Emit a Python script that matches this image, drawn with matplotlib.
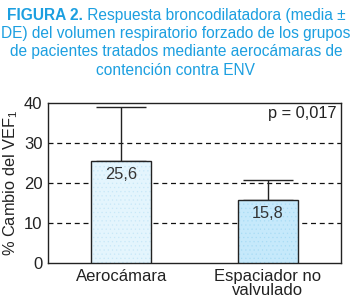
import matplotlib.pyplot as plt

plt.rcParams['font.family'] = ['Liberation Sans', 'DejaVu Sans']
plt.rcParams['mathtext.default'] = 'regular'
plt.rcParams['hatch.linewidth'] = 0.4

# datos
grupos = ["Aerocámara", "Espaciador no\nvalvulado"]
medias = [25.6, 15.8]
de = [13.4, 4.9]
etiquetas = ["25,6", "15,8"]
colores = ["#e4f5fd", "#c6e9fb"]
puntos = ["#c8e8f8", "#a9dcf5"]

azul = "#1c9fe0"
gris = "#222222"

fig = plt.figure(figsize=(3.52, 3.02), dpi=100)
ax = fig.add_axes([0.136, 0.129, 0.833, 0.53])

x = [0, 1]
# relleno con textura de puntos y luego el borde
ax.bar(x, medias, width=0.41, color=colores, edgecolor=puntos, hatch="....",
       linewidth=0, zorder=3)
ax.bar(x, medias, width=0.41, color="none", edgecolor=gris, linewidth=1, zorder=3)
ax.errorbar(x, medias, yerr=[[0, 0], de], fmt="none", ecolor=gris,
            elinewidth=1, capsize=18, capthick=1, zorder=2)

for xi, m, t in zip(x, medias, etiquetas):
    ax.text(xi, m - 3.4, t, ha="center", va="center", fontsize=11.8, color="#333333", zorder=4)

ax.text(1.47, 37.4, "p = 0,017", ha="right", va="center", fontsize=11.8, color=gris)

ax.set_xlim(-0.5, 1.5)
ax.set_ylim(0, 40)
ax.set_yticks([0, 10, 20, 30, 40])
ax.set_xticks(x)
ax.set_xticklabels(grupos, fontsize=12, color=gris, linespacing=0.95)
ax.tick_params(axis="both", length=0, labelsize=12, labelcolor=gris)
ax.tick_params(axis="y", pad=4)
ax.tick_params(axis="x", pad=4)
for yv in [10, 20, 30]:
    ax.axhline(yv, color="#111111", linestyle=(0, (4, 3)), linewidth=0.9, zorder=1)
for s in ax.spines.values():
    s.set_color(gris)
    s.set_linewidth(1)

ax.set_ylabel("% Cambio del VEF$_1$", fontsize=11.8, color=gris, labelpad=3)

# titulo: primera linea con parte en negrita
tam = 11.2
renderer = fig.canvas.get_renderer()
t_b = fig.text(0, 0.95, "FIGURA 2.", fontsize=tam, fontweight="bold", color=azul, va="center")
t_r = fig.text(0, 0.95, " Respuesta broncodilatadora (media ±", fontsize=tam, color=azul, va="center")
wb = t_b.get_window_extent(renderer).width / fig.bbox.width
wr = t_r.get_window_extent(renderer).width / fig.bbox.width
x0 = 0.5 - (wb + wr) / 2
t_b.set_x(x0)
t_r.set_x(x0 + wb)

resto = ["DE) del volumen respiratorio forzado de los grupos",
         "de pacientes tratados mediante aerocámaras de",
         "contención contra ENV"]
for i, linea in enumerate(resto):
    fig.text(0.5, 0.95 - (i + 1) * 0.061, linea, ha="center", va="center",
             fontsize=tam, color=azul)

fig.savefig("out.png", dpi=100)
